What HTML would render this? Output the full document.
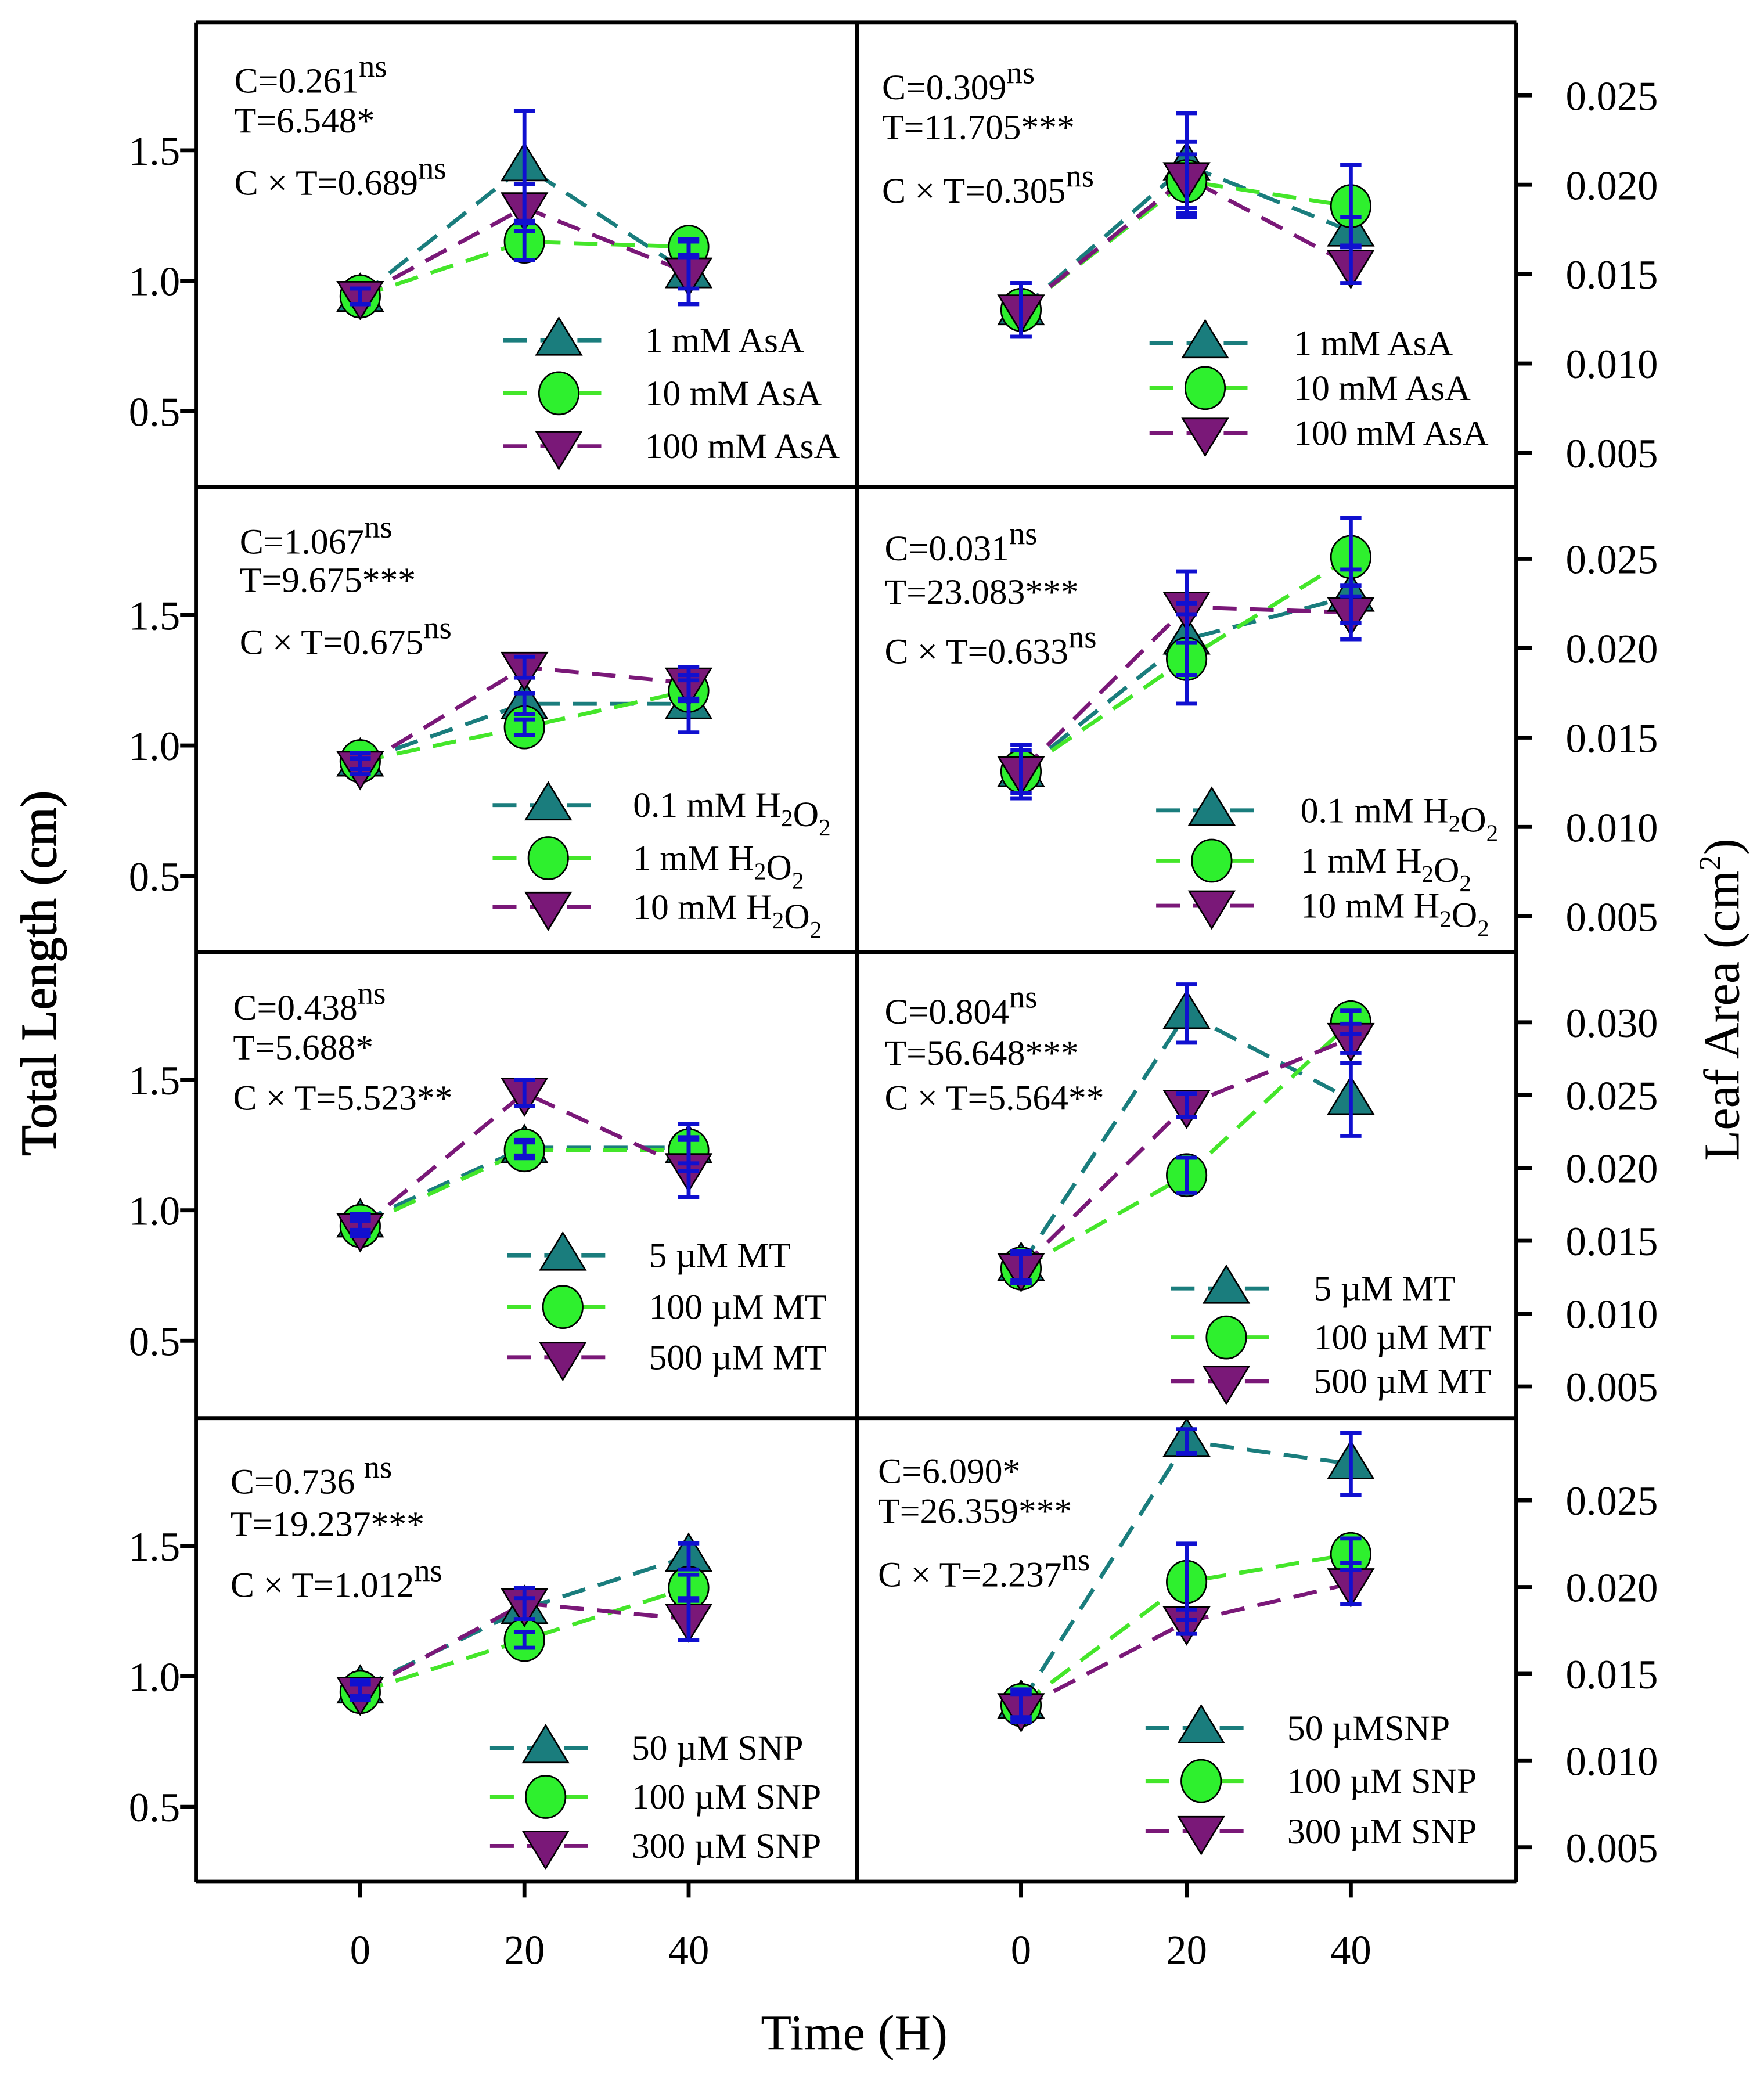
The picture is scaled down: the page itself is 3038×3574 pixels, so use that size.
<!DOCTYPE html>
<html><head><meta charset="utf-8"><style>
html,body{margin:0;padding:0;background:#fff}
svg{display:block}
text{font-family:"Liberation Serif",serif;fill:#000}
</style></head><body>
<svg id="fig" xmlns="http://www.w3.org/2000/svg" width="3038" height="3574" viewBox="0 0 1332 1567" preserveAspectRatio="none">
<g id="frame"></g>
<g id="plots"></g>
<text transform="translate(42,735) rotate(-90)" text-anchor="middle" font-size="38" stroke="#000" stroke-width="0.6">Total Length (cm)</text>
<text transform="translate(1313,755) rotate(-90)" text-anchor="middle" font-size="38">Leaf Area (cm<tspan font-size="23" dy="-14">2</tspan><tspan dy="14">)</tspan></text>
<text x="645" y="1548" text-anchor="middle" font-size="38">Time (H)</text>
</svg>
<script>
const times = [0, 20, 40];
const xLeftPix = [272, 396, 520];
const xRightPix = [771, 896, 1020];
const leftTicks = [0.5, 1.0, 1.5];
const rightTicksA = [0.005, 0.010, 0.015, 0.020, 0.025];
const rightTicksB = [0.005, 0.010, 0.015, 0.020, 0.025, 0.030];
const xTickLabels = ["0", "20", "40"];

// Row 1 AsA
const r1Names = ["1 mM AsA", "10 mM AsA", "100 mM AsA"];
const r1L = [[0.94, 1.44, 1.03], [0.94, 1.15, 1.13], [0.94, 1.28, 1.03]];
const r1Le = [[0.03, 0.21, 0.06], [0.03, 0.07, 0.03], [0.03, 0.09, 0.12]];
const r1R = [[0.0130, 0.0211, 0.0174], [0.0130, 0.0202, 0.0188], [0.0130, 0.0204, 0.0155]];
const r1Re = [[0.0015, 0.0029, 0.0008], [0.0015, 0.0015, 0.0023], [0.0015, 0.0020, 0.0010]];
// Row 2 H2O2
const r2L = [[0.94, 1.16, 1.16], [0.94, 1.07, 1.21], [0.92, 1.30, 1.24]];
const r2Le = [[0.03, 0.04, 0.11], [0.03, 0.03, 0.04], [0.03, 0.04, 0.06]];
const r2R = [[0.0131, 0.0205, 0.0229], [0.0131, 0.0194, 0.0251], [0.0131, 0.0223, 0.0220]];
const r2Re = [[0.0015, 0.0020, 0.0015], [0.0015, 0.0025, 0.0022], [0.0012, 0.0020, 0.0015]];
// Row 3 MT
const r3L = [[0.955, 1.24, 1.24], [0.94, 1.23, 1.23], [0.93, 1.45, 1.16]];
const r3Le = [[0.03, 0.03, 0.09], [0.03, 0.03, 0.05], [0.03, 0.05, 0.11]];
const r3R = [[0.0133, 0.0306, 0.0247], [0.0131, 0.0195, 0.0300], [0.0131, 0.0243, 0.0289]];
const r3Re = [[0.0010, 0.0020, 0.0025], [0.0010, 0.0012, 0.0008], [0.0010, 0.0008, 0.0010]];
// Row 4 SNP
const r4L = [[0.955, 1.26, 1.46], [0.94, 1.14, 1.34], [0.94, 1.28, 1.22]];
const r4Le = [[0.03, 0.04, 0.05], [0.03, 0.03, 0.05], [0.03, 0.06, 0.08]];
const r4R = [[0.0133, 0.0284, 0.0271], [0.0132, 0.0203, 0.0219], [0.0130, 0.0180, 0.0202]];
const r4Re = [[0.0008, 0.0007, 0.0018], [0.0008, 0.0022, 0.0009], [0.0008, 0.0007, 0.0012]];

const NS = "http://www.w3.org/2000/svg";
const colors = ["#1a7d7d", "#2ef02e", "#7a1878"];
const lineColors = ["#1a7d7d", "#44e62a", "#7a1878"];
const frame = document.getElementById('frame');
const plots = document.getElementById('plots');
function mk(tag, attrs, parent) {
  const e = document.createElementNS(NS, tag);
  for (const k in attrs) e.setAttribute(k, attrs[k]);
  parent.appendChild(e);
  return e;
}
const L = 148, M = 647, R = 1145;
const rowTops = [17, 368, 719, 1071, 1421];

[[L, 17, R, 17], [L, 1421, R, 1421], [L, 17, L, 1421], [R, 17, R, 1421], [M, 17, M, 1421],
 [L, 368, R, 368], [L, 719, R, 719], [L, 1071, R, 1071]].forEach(s => {
  const ln = mk('line', {x1: s[0], y1: s[1], x2: s[2], y2: s[3], stroke: '#000', 'stroke-width': 3}, frame);
  
  
});

xLeftPix.concat(xRightPix).forEach((x, i) => {
  const t = mk('line', {x1: x, y1: 1421, x2: x, y2: 1433, stroke: '#000', 'stroke-width': 3}, frame);
  
  
  const lb = mk('text', {x: x, y: 1483, 'text-anchor': 'middle', 'font-size': 31}, frame);
  lb.textContent = xTickLabels[i % 3];
  
  
});

function triUp(g, x, y, c) { return mk('path', {d: `M${x},${y-17} L${x+17},${y+11} L${x-17},${y+11} Z`, fill: c, stroke: '#000', 'stroke-width': 1.2}, g); }
function triDown(g, x, y, c) { return mk('path', {d: `M${x},${y+17} L${x+17},${y-11} L${x-17},${y-11} Z`, fill: c, stroke: '#000', 'stroke-width': 1.2}, g); }
function circ(g, x, y, c) { return mk('ellipse', {cx: x, cy: y, rx: 15, ry: 16, fill: c, stroke: '#000', 'stroke-width': 1.2}, g); }
const markers = [triUp, circ, triDown];

function panel(opts) {
  const g = mk('g', {}, plots);
  
  
  opts.ticks.forEach(v => {
    const y = opts.ys(v);
    const ax = opts.side === 'L' ? L : R;
    const t = mk('line', {x1: opts.side === 'L' ? ax - 12 : ax, y1: y, x2: opts.side === 'L' ? ax : ax + 12, y2: y, stroke: '#000', 'stroke-width': 3}, g);
    
    
    const lb = mk('text', {x: opts.side === 'L' ? 136 : 1252, y: y + 11, 'text-anchor': 'end', 'font-size': 31}, g);
    lb.textContent = opts.side === 'L' ? v.toFixed(1) : v.toFixed(3);
    
    
  });
  opts.vals.forEach((s, si) => {
    const pts = s.map((v, i) => opts.xs[i] + ',' + opts.ys(v)).join(' ');
    const pl = mk('polyline', {points: pts, fill: 'none', stroke: lineColors[si], 'stroke-width': 3, 'stroke-dasharray': '18 10'}, g);
    
    
  });
  opts.vals.forEach((s, si) => {
    s.forEach((v, i) => {
      const m = markers[si](g, opts.xs[i], opts.ys(v), colors[si]);
      
      
    });
  });
  opts.vals.forEach((s, si) => {
    s.forEach((v, i) => {
      const x = opts.xs[i], e = opts.errs[si][i];
      const y1 = opts.ys(v + e), y2 = opts.ys(v - e);
      const eb = mk('path', {d: `M${x},${y1} L${x},${y2} M${x-8},${y1} L${x+8},${y1} M${x-8},${y2} L${x+8},${y2}`, stroke: '#1010d0', 'stroke-width': 3, fill: 'none'}, g);
      
      
    });
  });
  const a = opts.ann;
  const t1 = mk('text', {x: a.x, y: a.y[0], 'font-size': 27}, g);
  t1.innerHTML = a.t[0];
  
  
  const t2 = mk('text', {x: a.x, y: a.y[1], 'font-size': 27}, g);
  t2.innerHTML = a.t[1];
  
  
  const t3 = mk('text', {x: a.x, y: a.y[2], 'font-size': 27}, g);
  t3.innerHTML = a.t[2];
  
  
  const lg = opts.leg;
  const lgG = mk('g', {}, g);
  
  
  lg.ys.forEach((y, si) => {
    const ln = mk('line', {x1: lg.x, y1: y, x2: lg.x + 80, y2: y, stroke: lineColors[si], 'stroke-width': 3, 'stroke-dasharray': '18 10'}, lgG);
    
    
    const m = markers[si](lgG, lg.x + 42, y, colors[si]);
    
    
    const tx = mk('text', {x: lg.tx, y: y + 9, 'font-size': 27}, lgG);
    tx.innerHTML = lg.names[si];
    
    
  });
}
function leftY(r) { const base = rowTops[r] + 195; return v => base - (v - 1) * 197; }
function rightY(refV, refY, per) { return v => refY - (v - refV) / 0.005 * per; }
const ns = '<tspan font-size="24" dy="-12">ns</tspan>';
const sub = s => `<tspan font-size="18" dy="7">${s}</tspan><tspan dy="-7"></tspan>`;
const h2o2 = `H${sub('2')}O${sub('2')}`;

panel({name: 'panel-asa-length', side: 'L', ticks: leftTicks, ys: leftY(0), xs: xLeftPix, vals: r1L, errs: r1Le,
  ann: {x: 177, y: [70, 100, 147], t: ['C=0.261' + ns, 'T=6.548*', 'C × T=0.689' + ns]},
  leg: {x: 380, tx: 487, ys: [257, 297, 337], names: r1Names}});
panel({name: 'panel-asa-area', side: 'R', ticks: rightTicksA, ys: rightY(0.025, 72, 67.5), xs: xRightPix, vals: r1R, errs: r1Re,
  ann: {x: 666, y: [75, 105, 153], t: ['C=0.309' + ns, 'T=11.705***', 'C × T=0.305' + ns]},
  leg: {x: 868, tx: 977, ys: [259, 293, 327], names: r1Names}});
const r2Names = ['0.1 mM ' + h2o2, '1 mM ' + h2o2, '10 mM ' + h2o2];
panel({name: 'panel-h2o2-length', side: 'L', ticks: leftTicks, ys: leftY(1), xs: xLeftPix, vals: r2L, errs: r2Le,
  ann: {x: 181, y: [418, 447, 494], t: ['C=1.067' + ns, 'T=9.675***', 'C × T=0.675' + ns]},
  leg: {x: 372, tx: 478, ys: [608, 648, 685], names: r2Names}});
panel({name: 'panel-h2o2-area', side: 'R', ticks: rightTicksA, ys: rightY(0.025, 422, 67.5), xs: xRightPix, vals: r2R, errs: r2Re,
  ann: {x: 668, y: [423, 456, 501], t: ['C=0.031' + ns, 'T=23.083***', 'C × T=0.633' + ns]},
  leg: {x: 873, tx: 982, ys: [612, 650, 684], names: r2Names}});
const r3Names = ['5 µM MT', '100 µM MT', '500 µM MT'];
panel({name: 'panel-mt-length', side: 'L', ticks: leftTicks, ys: leftY(2), xs: xLeftPix, vals: r3L, errs: r3Le,
  ann: {x: 176, y: [770, 800, 838], t: ['C=0.438' + ns, 'T=5.688*', 'C × T=5.523**']},
  leg: {x: 383, tx: 490, ys: [948, 987, 1025], names: r3Names}});
panel({name: 'panel-mt-area', side: 'R', ticks: rightTicksB, ys: rightY(0.030, 772, 55), xs: xRightPix, vals: r3R, errs: r3Re,
  ann: {x: 668, y: [773, 804, 838], t: ['C=0.804' + ns, 'T=56.648***', 'C × T=5.564**']},
  leg: {x: 884, tx: 992, ys: [973, 1010, 1043], names: r3Names}});
panel({name: 'panel-snp-length', side: 'L', ticks: leftTicks, ys: leftY(3), xs: xLeftPix, vals: r4L, errs: r4Le,
  ann: {x: 174, y: [1128, 1160, 1206], t: ['C=0.736 ' + ns, 'T=19.237***', 'C × T=1.012' + ns]},
  leg: {x: 370, tx: 477, ys: [1320, 1357, 1394], names: ['50 µM SNP', '100 µM SNP', '300 µM SNP']}});
panel({name: 'panel-snp-area', side: 'R', ticks: rightTicksA, ys: rightY(0.025, 1133, 65.5), xs: xRightPix, vals: r4R, errs: r4Re,
  ann: {x: 663, y: [1120, 1150, 1198], t: ['C=6.090*', 'T=26.359***', 'C × T=2.237' + ns]},
  leg: {x: 865, tx: 972, ys: [1305, 1345, 1383], names: ['50 µMSNP', '100 µM SNP', '300 µM SNP']}});
</script>
</body></html>
